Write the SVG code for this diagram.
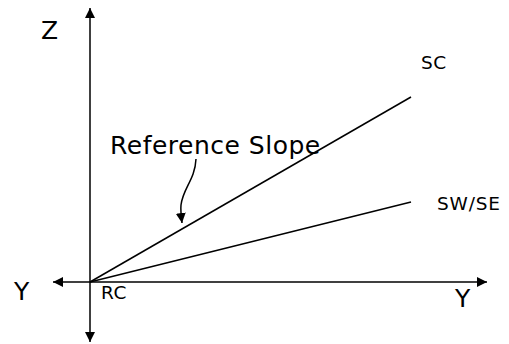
<svg xmlns="http://www.w3.org/2000/svg" width="509" height="344" viewBox="0 0 509 344">
<style>
.t{font-family:"DejaVu Sans",Verdana,sans-serif;fill:#000}
.l{stroke:#000;stroke-width:1.5;fill:none}
</style>
<defs>
<marker id="ah" viewBox="0 0 10 10" refX="10" refY="5" markerWidth="10" markerHeight="10" markerUnits="userSpaceOnUse" orient="auto">
<path d="M0,0 L10,5 L0,10 z" fill="#000"/>
</marker>
</defs>
<rect width="509" height="344" fill="#fff"/>
<g id="connectors">
<line class="l" x1="90" y1="282" x2="90" y2="8" marker-end="url(#ah)"/>
<line class="l" x1="90" y1="282" x2="90" y2="342" marker-end="url(#ah)"/>
<line class="l" x1="90" y1="282" x2="53" y2="282" marker-end="url(#ah)"/>
<line class="l" x1="90" y1="282" x2="487" y2="282" marker-end="url(#ah)"/>
<line class="l" x1="90" y1="282" x2="411" y2="97"/>
<line class="l" x1="90" y1="282" x2="411" y2="202"/>
<path class="l" d="M196,159 C195,180 183,188 181,205 C180.5,210 181,215 182,223" marker-end="url(#ah)"/>
</g>
<g id="labels">
<text class="t" x="41" y="39" font-size="25">Z</text>
<text class="t" x="14" y="300" font-size="25">Y</text>
<text class="t" x="455" y="307" font-size="25">Y</text>
<text class="t" x="101" y="299" font-size="18.5" letter-spacing="0.6">RC</text>
<text class="t" x="421" y="69" font-size="18.5" letter-spacing="0.6">SC</text>
<text class="t" x="437" y="210" font-size="18.5" letter-spacing="0.8">SW/SE</text>
<text class="t" x="110" y="154" font-size="25" letter-spacing="0.5">Reference Slope</text>
</g>
</svg>
